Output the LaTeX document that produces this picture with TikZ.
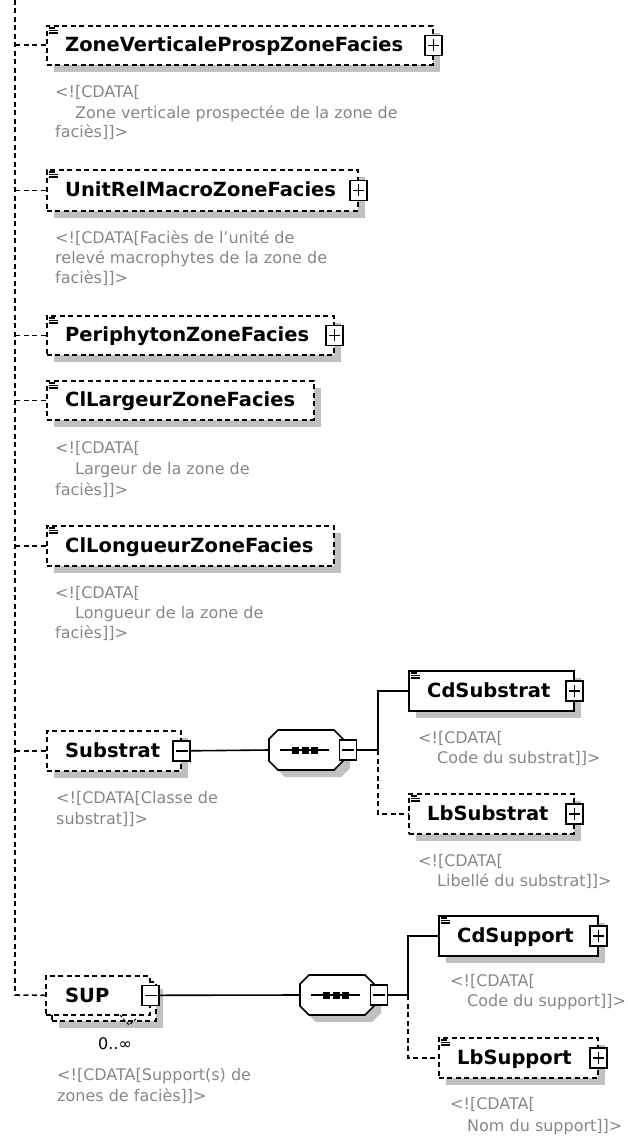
\documentclass[tikz,border=0pt]{standalone}
\usepackage{fontspec}
\setmainfont{DejaVu Sans}
\usetikzlibrary{shadows}
\definecolor{shd}{RGB}{192,192,192}
\definecolor{cmtc}{RGB}{135,135,135}
\tikzset{
  conn/.style={line width=1.6pt, black},
  dconn/.style={line width=1.6pt, black, dash pattern=on 5pt off 3.5pt},
  elbox/.style={draw, line width=1.6pt, fill=white, inner sep=0pt, anchor=north west,
    drop shadow={shadow xshift=7pt, shadow yshift=-7pt, fill=shd, opacity=1}},
  optbox/.style={elbox, dash pattern=on 5pt off 3.5pt},
  backbox/.style={draw, line width=1.6pt, fill=white, inner sep=0pt, anchor=north west, dash pattern=on 5pt off 3.5pt},
  eltext/.style={font=\fontsize{19.5}{22}\selectfont\bfseries, anchor=base west, inner sep=0pt},
  cmt/.style={font=\fontsize{16}{20}\selectfont, text=cmtc, anchor=base west, inner sep=0pt},
  card/.style={font=\fontsize{16}{20}\selectfont, anchor=base west, inner sep=0pt},
  pm/.style={draw, line width=1.5pt, fill=white, minimum width=17pt, minimum height=20pt, inner sep=0pt},
  icon/.style={line width=1.1pt},
  seqshape/.style={draw, line width=1.6pt, fill=white},
}
% element box: name, L, T, R, B, label, style
\newcommand{\xel}[7]{%
  \node[#7, minimum width={#4-#2}, minimum height={#5-#3}] (#1) at (#2,#3) {};
  \node[eltext] (#1-t) at ({#2+19},{(#3+#5)/2+7}) {#6};}
% icon at L,T
\newcommand{\xicon}[2]{%
  \draw[icon] ({#1+3},{#2+3}) -- ++(6,0) ({#1+3},{#2+5.5}) -- ++(9,0) ({#1+3},{#2+8}) -- ++(9,0);}
% plus / minus boxes
\newcommand{\xplus}[2]{%
  \node[pm] (#1) at (#2) {};
  \draw[line width=1.5pt] ([xshift=-5.5pt]#1.center) -- ([xshift=5.5pt]#1.center)
    ([yshift=-6pt]#1.center) -- ([yshift=6pt]#1.center);}
\newcommand{\xminus}[2]{%
  \node[pm] (#1) at (#2) {};
  \draw[line width=1.5pt] ([xshift=-6pt]#1.center) -- ([xshift=6pt]#1.center);}
% sequence compositor: name, left x, top y (width 74, height 40)
\newcommand{\xseq}[3]{%
  \fill[shd] ({#2+7+9},{#3+7}) -- ({#2+7+65},{#3+7}) -- ({#2+7+74},{#3+7+9}) -- ({#2+7+74},{#3+7+31})
    -- ({#2+7+65},{#3+7+40}) -- ({#2+7+9},{#3+7+40}) -- ({#2+7},{#3+7+31}) -- ({#2+7},{#3+7+9}) -- cycle;
  \draw[seqshape] ({#2+9},{#3}) -- ({#2+65},{#3}) -- ({#2+74},{#3+9}) -- ({#2+74},{#3+31})
    -- ({#2+65},{#3+40}) -- ({#2+9},{#3+40}) -- ({#2},{#3+31}) -- ({#2},{#3+9}) -- cycle;
  \coordinate (#1-w) at ({#2},{#3+20});
  \draw[line width=1.6pt] ({#2+11},{#3+20}) -- ({#2+60},{#3+20});
  \fill ({#2+23},{#3+16.5}) rectangle ++(7,7);
  \fill ({#2+32.5},{#3+16.5}) rectangle ++(7,7);
  \fill ({#2+42},{#3+16.5}) rectangle ++(7,7);
  \xminus{#1-m}{{#2+79},{#3+20}}}
\begin{document}
\begin{tikzpicture}[x=1pt,y=-1pt]
\useasboundingbox (0,0) rectangle (628,1137);

% main vertical dashed line
\coordinate (vtop) at (15,0);
\coordinate (vbot) at (15,995);
\draw[dconn] (vtop) -- (vbot);

% ---------- ZoneVerticaleProspZoneFacies
\xel{zv}{46}{25}{432}{64}{ZoneVerticaleProspZoneFacies}{optbox}
\xicon{46}{25}
\xplus{zvp}{zv.east}
\draw[dconn] (vtop |- zv.west) -- (zv.west);
\node[cmt] (zvc1) at (55,98) {<![CDATA[};
\node[cmt] (zvc2) at (75,118) {Zone verticale prospectée de la zone de};
\node[cmt] (zvc3) at (55,138) {faciès]]>};

% ---------- UnitRelMacroZoneFacies
\xel{ur}{46}{169}{357}{210}{UnitRelMacroZoneFacies}{optbox}
\xicon{46}{169}
\xplus{urp}{ur.east}
\draw[dconn] (vtop |- ur.west) -- (ur.west);
\node[cmt] (urc1) at (55,243) {<![CDATA[Faciès de l'unité de};
\node[cmt] (urc2) at (55,263) {relevé macrophytes de la zone de};
\node[cmt] (urc3) at (55,283) {faciès]]>};

% ---------- PeriphytonZoneFacies
\xel{pz}{46}{315}{333}{354}{PeriphytonZoneFacies}{optbox}
\xicon{46}{315}
\xplus{pzp}{pz.east}
\draw[dconn] (vtop |- pz.west) -- (pz.west);

% ---------- ClLargeurZoneFacies
\xel{cl}{46}{380}{313}{419}{ClLargeurZoneFacies}{optbox}
\xicon{46}{380}
\draw[dconn] (vtop |- cl.west) -- (cl.west);
\node[cmt] (clc1) at (55,453) {<![CDATA[};
\node[cmt] (clc2) at (75,474) {Largeur de la zone de};
\node[cmt] (clc3) at (55,495) {faciès]]>};

% ---------- ClLongueurZoneFacies
\xel{cg}{46}{525}{333}{565}{ClLongueurZoneFacies}{optbox}
\xicon{46}{525}
\draw[dconn] (vtop |- cg.west) -- (cg.west);
\node[cmt] (cgc1) at (55,598) {<![CDATA[};
\node[cmt] (cgc2) at (75,618) {Longueur de la zone de};
\node[cmt] (cgc3) at (55,638) {faciès]]>};

% ---------- Substrat
\xel{sb}{46}{730}{180}{770}{Substrat}{optbox}
\xminus{sbm}{sb.east}
\draw[dconn] (vtop |- sb.west) -- (sb.west);
\node[cmt] (sbc1) at (56,803) {<![CDATA[Classe de};
\node[cmt] (sbc2) at (56,824) {substrat]]>};

\xseq{sq1}{269}{730}
\draw[conn] (sbm.east) -- (sq1-w);
\coordinate (j1) at (378,750);
\draw[conn] (sq1-m.east) -- (j1);

% CdSubstrat
\xel{cs}{408}{670}{573}{710}{CdSubstrat}{elbox}
\xicon{408}{670}
\xplus{csp}{cs.east}
\draw[conn] (j1) |- (cs.west);
\node[cmt] (csc1) at (418,743) {<![CDATA[};
\node[cmt] (csc2) at (437,763) {Code du substrat]]>};

% LbSubstrat
\xel{ls}{408}{793}{573}{833}{LbSubstrat}{optbox}
\xicon{408}{793}
\xplus{lsp}{ls.east}
\draw[dconn] (j1) |- (ls.west);
\node[cmt] (lsc1) at (418,866) {<![CDATA[};
\node[cmt] (lsc2) at (437,886) {Libellé du substrat]]>};

% ---------- SUP (repeated element)
\node[backbox, minimum width=104pt, minimum height=39pt,
  drop shadow={shadow xshift=7pt, shadow yshift=-7pt, fill=shd, opacity=1}] (supb) at (51,981) {};
\node[backbox, minimum width=104pt, minimum height=39pt] (sup) at (45,975) {};
\node[eltext] (sup-t) at (65,1002) {SUP};
\xminus{supm}{sup.east}
\draw[dconn] (vbot) -- (sup.west);
\coordinate (cardtip) at (129,1025);
\draw[line width=1pt, dash pattern=on 3pt off 2pt] (120,1015) -- (cardtip) -- (136,1019);
\node[card] (supcard) at (98,1049) {0..∞};
\node[cmt] (supc1) at (57,1080) {<![CDATA[Support(s) de};
\node[cmt] (supc2) at (57,1101) {zones de faciès]]>};

\xseq{sq2}{300}{975}
\draw[conn] (supm.east) -- (sq2-w);
\coordinate (j2) at (408,995);
\draw[conn] (sq2-m.east) -- (j2);

% CdSupport
\xel{cp}{438}{915}{597}{955}{CdSupport}{elbox}
\xicon{438}{915}
\xplus{cpp}{cp.east}
\draw[conn] (j2) |- (cp.west);
\node[cmt] (cpc1) at (450,986) {<![CDATA[};
\node[cmt] (cpc2) at (467,1006) {Code du support]]>};

% LbSupport
\xel{lp}{438}{1037}{597}{1077}{LbSupport}{optbox}
\xicon{438}{1037}
\xplus{lpp}{lp.east}
\draw[dconn] (j2) |- (lp.west);
\node[cmt] (lpc1) at (450,1109) {<![CDATA[};
\node[cmt] (lpc2) at (467,1131) {Nom du support]]>};
\end{tikzpicture}
\end{document}
